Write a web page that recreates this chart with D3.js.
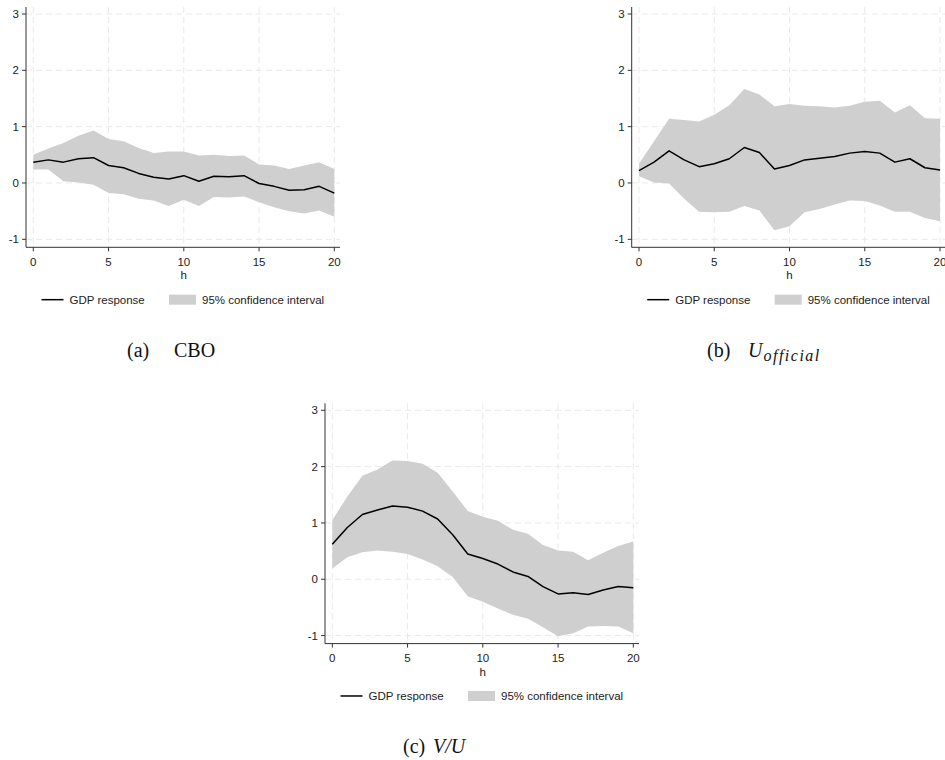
<!DOCTYPE html>
<html>
<head>
<meta charset="utf-8">
<script src="https://d3js.org/d3.v7.min.js"></script>
<style>
  body { margin: 0; background: #fff; }
  svg { display: block; }
  .tick-label { font-family: "Liberation Sans", Arial, sans-serif; font-size: 11.5px; fill: #222; }
  .legend-label { font-family: "Liberation Sans", Arial, sans-serif; font-size: 11.5px; fill: #222; }
  .caption { font-family: "Liberation Serif", "Times New Roman", serif; font-size: 20px; fill: #111; }
</style>
</head>
<body>
<svg width="945" height="760"></svg>
<script>
// horizons (h) and tick values
const horizons = [0,1,2,3,4,5,6,7,8,9,10,11,12,13,14,15,16,17,18,19,20];
const xTicks = [0,5,10,15,20];
const yTicks = [-1,0,1,2,3];
const legendLabels = ["GDP response", "95% confidence interval"];

// (a) CBO
const cboResp  = [0.37,0.41,0.37,0.43,0.45,0.31,0.27,0.17,0.10,0.07,0.13,0.03,0.12,0.11,0.13,-0.01,-0.06,-0.13,-0.12,-0.06,-0.18];
const cboUpper = [0.50,0.61,0.71,0.84,0.93,0.78,0.74,0.62,0.53,0.56,0.56,0.49,0.50,0.48,0.49,0.33,0.31,0.25,0.31,0.37,0.25];
const cboLower = [0.24,0.24,0.03,0.01,-0.03,-0.18,-0.20,-0.28,-0.31,-0.41,-0.30,-0.41,-0.25,-0.26,-0.24,-0.34,-0.43,-0.50,-0.54,-0.49,-0.60];

// (b) U official
const uoffResp  = [0.22,0.37,0.57,0.41,0.29,0.34,0.43,0.63,0.54,0.25,0.31,0.41,0.44,0.47,0.53,0.56,0.53,0.37,0.43,0.27,0.23];
const uoffUpper = [0.34,0.74,1.14,1.12,1.09,1.21,1.38,1.67,1.57,1.36,1.40,1.37,1.36,1.34,1.37,1.44,1.46,1.25,1.38,1.15,1.14];
const uoffLower = [0.12,0.01,-0.01,-0.28,-0.51,-0.52,-0.51,-0.41,-0.49,-0.84,-0.77,-0.52,-0.46,-0.38,-0.31,-0.32,-0.40,-0.51,-0.51,-0.62,-0.68];

// (c) V/U
const vuResp  = [0.62,0.92,1.15,1.23,1.30,1.28,1.21,1.07,0.79,0.45,0.37,0.27,0.13,0.05,-0.13,-0.26,-0.24,-0.27,-0.19,-0.13,-0.15];
const vuUpper = [1.05,1.47,1.84,1.95,2.11,2.10,2.05,1.89,1.56,1.21,1.11,1.04,0.88,0.81,0.61,0.51,0.49,0.34,0.47,0.59,0.67];
const vuLower = [0.19,0.39,0.48,0.51,0.49,0.45,0.35,0.23,0.04,-0.30,-0.40,-0.52,-0.63,-0.70,-0.85,-1.01,-0.96,-0.84,-0.83,-0.84,-0.96];

const svg = d3.select("svg");
const bandColor = "#cfcfcf";
const gridColor = "#e9e9e9";
const axisColor = "#333";

// ax = x of the y axis, top = y of the top of the plot
function drawPanel(ax, top, resp, upper, lower) {
  const g = svg.append("g");
  const x = d3.scaleLinear().domain([0, 20]).range([ax + 7.3, ax + 308.3]);
  const y = d3.scaleLinear().domain([-1, 3]).range([top + 232.3, top + 7]);
  const right = ax + 314, bottom = top + 240.3;

  // grid
  g.selectAll(".hgrid").data(yTicks).enter().append("line")
    .attr("x1", ax).attr("x2", right)
    .attr("y1", d => y(d)).attr("y2", d => y(d))
    .attr("stroke", gridColor).attr("stroke-dasharray", "6,4");
  g.selectAll(".vgrid").data(xTicks).enter().append("line")
    .attr("x1", d => x(d)).attr("x2", d => x(d))
    .attr("y1", top).attr("y2", bottom)
    .attr("stroke", gridColor).attr("stroke-dasharray", "6,4");

  const rows = horizons.map((h, i) => ({h: h, r: resp[i], u: upper[i], l: lower[i]}));

  g.append("path").datum(rows)
    .attr("d", d3.area().x(d => x(d.h)).y0(d => y(d.l)).y1(d => y(d.u)))
    .attr("fill", bandColor);

  g.append("path").datum(rows)
    .attr("d", d3.line().x(d => x(d.h)).y(d => y(d.r)))
    .attr("fill", "none").attr("stroke", "#000").attr("stroke-width", 1.5)
    .attr("stroke-linejoin", "round");

  // axes
  g.append("line").attr("x1", ax).attr("x2", ax).attr("y1", top).attr("y2", bottom)
    .attr("stroke", axisColor);
  g.append("line").attr("x1", ax).attr("x2", right).attr("y1", bottom).attr("y2", bottom)
    .attr("stroke", axisColor);

  g.selectAll(".ytick").data(yTicks).enter().append("line")
    .attr("x1", ax - 4).attr("x2", ax).attr("y1", d => y(d)).attr("y2", d => y(d))
    .attr("stroke", axisColor);
  g.selectAll(".ylab").data(yTicks).enter().append("text")
    .attr("class", "tick-label").attr("text-anchor", "end")
    .attr("x", ax - 7).attr("y", d => y(d) + 4).text(d => d);

  g.selectAll(".xtick").data(xTicks).enter().append("line")
    .attr("x1", d => x(d)).attr("x2", d => x(d)).attr("y1", bottom).attr("y2", bottom + 4)
    .attr("stroke", axisColor);
  g.selectAll(".xlab").data(xTicks).enter().append("text")
    .attr("class", "tick-label").attr("text-anchor", "middle")
    .attr("x", d => x(d)).attr("y", bottom + 18.5).text(d => d);

  g.append("text").attr("class", "tick-label").attr("text-anchor", "middle")
    .attr("x", x(10)).attr("y", bottom + 32).text("h");

  // legend
  const ly = y(0) + 116.7;
  g.append("line").attr("x1", ax + 15.5).attr("x2", ax + 37.5).attr("y1", ly).attr("y2", ly)
    .attr("stroke", "#000").attr("stroke-width", 1.5);
  g.append("text").attr("class", "legend-label").attr("x", ax + 43.5).attr("y", ly + 4)
    .text(legendLabels[0]);
  g.append("rect").attr("x", ax + 143).attr("y", ly - 5).attr("width", 27).attr("height", 10)
    .attr("fill", bandColor);
  g.append("text").attr("class", "legend-label").attr("x", ax + 176).attr("y", ly + 4)
    .text(legendLabels[1]);
}

drawPanel(26, 7, cboResp, cboUpper, cboLower);
drawPanel(631.7, 7, uoffResp, uoffUpper, uoffLower);
drawPanel(325, 403.3, vuResp, vuUpper, vuLower);

// captions
svg.append("text").attr("class", "caption").attr("x", 127).attr("y", 357).text("(a)");
svg.append("text").attr("class", "caption").attr("x", 174).attr("y", 357).text("CBO");

svg.append("text").attr("class", "caption").attr("x", 707).attr("y", 357).text("(b)");
const ub = svg.append("text").attr("class", "caption").attr("x", 748).attr("y", 357);
ub.append("tspan").attr("font-style", "italic").text("U");
ub.append("tspan").attr("font-style", "italic").attr("font-size", "16px")
  .attr("letter-spacing", "1.5px").attr("dx", 1).attr("dy", 4).text("official");

svg.append("text").attr("class", "caption").attr("x", 403).attr("y", 753).text("(c)");
svg.append("text").attr("class", "caption").attr("x", 433).attr("y", 753)
  .attr("font-style", "italic").text("V/U");
</script>
</body>
</html>
